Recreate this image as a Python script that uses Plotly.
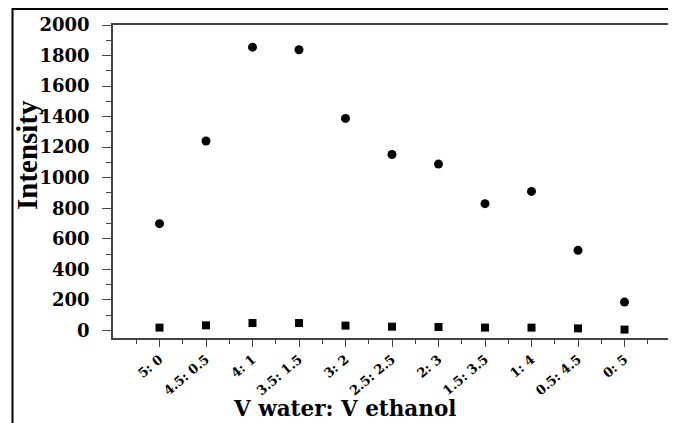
import plotly.graph_objects as go

categories = ["5: 0", "4.5: 0.5", "4: 1", "3.5: 1.5", "3: 2", "2.5: 2.5",
              "2: 3", "1.5: 3.5", "1: 4", "0.5: 4.5", "0: 5"]
circle_values = [699, 1240, 1855, 1838, 1388, 1152, 1089, 830, 910, 524, 185]
square_values = [18, 33, 48, 48, 31, 24, 22, 18, 18, 13, 5]
y_ticks = [0, 200, 400, 600, 800, 1000, 1200, 1400, 1600, 1800, 2000]

xpos = list(range(len(categories)))

# the page body offsets the figure by 8px; positions below are screen pixels
OFF = 8
W, H = 676, 423
SL, SR, ST, SB = 113, 671, 25, 338  # plot area on screen
L, T = SL - OFF, ST - OFF
R = W - (SR - OFF)
B = H - (SB - OFF)
pw, ph = W - L - R, H - T - B

def px_x(x):
    return (x - OFF - L) / pw

def px_y(y):
    return (H - B - (y - OFF)) / ph

fig = go.Figure()
fig.add_trace(go.Scatter(x=xpos, y=circle_values, mode="markers",
                         marker=dict(symbol="circle", size=9, color="black"),
                         showlegend=False))
fig.add_trace(go.Scatter(x=xpos, y=square_values, mode="markers",
                         marker=dict(symbol="square", size=8, color="black"),
                         showlegend=False))

fig.update_layout(
    width=W, height=H,
    margin=dict(l=L, r=R, t=T, b=B, autoexpand=False),
    paper_bgcolor="white", plot_bgcolor="white",
    xaxis=dict(
        range=[-1, 11], tickmode="array", tickvals=xpos, ticktext=categories,
        tickangle=-40, showgrid=False, zeroline=False,
        showline=True, linecolor="#444", linewidth=1.5, mirror=True,
        ticks="outside", ticklen=7, tickwidth=1.2, tickcolor="#444",
        tickfont=dict(family="DejaVu Serif", size=13, color="black", weight="bold"),
        minor=dict(tick0=0.5, dtick=1, ticks="outside", ticklen=4,
                   tickwidth=1.2, tickcolor="#444"),
    ),
    yaxis=dict(
        range=[-50, 2000], tickmode="array", tickvals=y_ticks,
        showgrid=False, zeroline=False,
        showline=True, linecolor="#444", linewidth=1.5, mirror=True,
        ticks="outside", ticklen=9, tickwidth=1.2, tickcolor="#444",
        ticklabelstandoff=9,
        tickfont=dict(family="DejaVu Serif", size=18, color="black", weight="bold"),
        minor=dict(tick0=0, dtick=100, ticks="outside", ticklen=5,
                   tickwidth=1.2, tickcolor="#444"),
    ),
    shapes=[dict(type="rect", xref="paper", yref="paper",
                 x0=px_x(12.5), x1=px_x(700), y0=px_y(460), y1=px_y(9),
                 line=dict(color="black", width=2), layer="below")],
    annotations=[
        dict(text="Intensity", xref="paper", yref="paper",
             x=px_x(27), y=px_y(155), textangle=-90, showarrow=False,
             xanchor="center", yanchor="middle",
             font=dict(family="Liberation Serif", size=29, color="black", weight="bold")),
        dict(text="V water: V ethanol", xref="paper", yref="paper",
             x=px_x(344), y=px_y(408), showarrow=False,
             xanchor="center", yanchor="middle",
             font=dict(family="DejaVu Serif", size=21.5, color="black", weight="bold")),
    ],
)

fig.write_html("out.html")
